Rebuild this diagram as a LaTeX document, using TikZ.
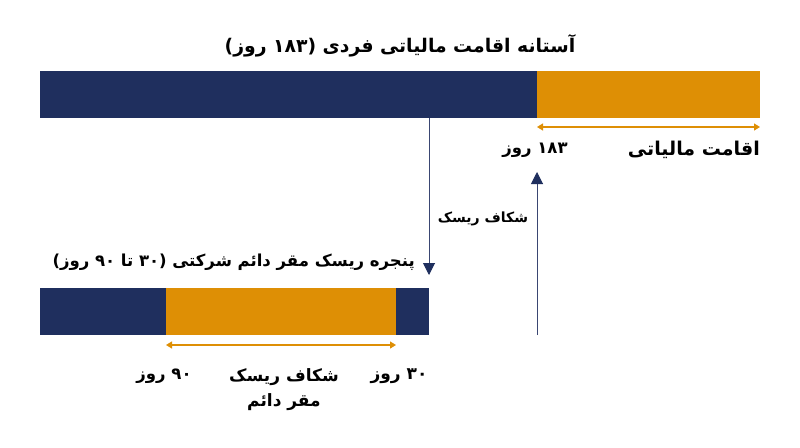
\documentclass[tikz,border=0pt]{standalone}
\usepackage{fontspec}
\newfontfamily\arabicfont[Script=Arabic]{DejaVu Sans}
\TeXXeTstate=1
\usetikzlibrary{arrows.meta}
\definecolor{navy}{HTML}{1F2F5E}
\definecolor{amber}{HTML}{DE8F05}
\definecolor{vline}{HTML}{3A4672}
\begin{document}
\begin{tikzpicture}[x=1pt,y=-1pt,
  bar/.style={draw=none,inner sep=0pt,outer sep=0pt,minimum height=47pt,anchor=north west},
  lbl/.style={text=black,inner sep=0pt,font=\arabicfont\bfseries},
  amberarr/.style={draw=amber,line width=1.2pt,{Triangle[length=6pt,width=7pt]}-{Triangle[length=6pt,width=7pt]}},
  navyarr/.style={draw=vline,line width=1pt,-{Triangle[length=12pt,width=12pt,color=navy]}}]
\useasboundingbox (0,0) rectangle (800,447);
\fill[white] (0,0) rectangle (800,447);
% top bar
\node[bar,fill=navy,minimum width=497pt] (topnavy) at (40,71) {};
\node[bar,fill=amber,minimum width=223pt] (topamber) at (537,71) {};
% bottom bar
\node[bar,fill=navy,minimum width=126pt] (botl) at (40,288) {};
\node[bar,fill=amber,minimum width=230pt] (botm) at (166,288) {};
\node[bar,fill=navy,minimum width=33pt] (botr) at (396,288) {};
% texts
\node[lbl,font=\arabicfont\bfseries\fontsize{18.8}{22}\selectfont] (title) at (400,46)
  {\beginR آستانه اقامت مالیاتی فردی (\beginL ۱۸۳\endL{} روز)\endR};
\node[lbl,font=\arabicfont\bfseries\fontsize{19}{22}\selectfont,anchor=east] (tax) at (760,150)
  {\beginR اقامت مالیاتی\endR};
\node[lbl,font=\arabicfont\bfseries\fontsize{16.5}{20}\selectfont] (d183) at (535,150)
  {\beginR\beginL ۱۸۳\endL{} روز\endR};
\node[lbl,font=\arabicfont\bfseries\fontsize{14}{17}\selectfont] (gap) at (483,219)
  {\beginR شکاف ریسک\endR};
\node[lbl,font=\arabicfont\bfseries\fontsize{16.5}{20}\selectfont,anchor=east] (title2) at (415,262)
  {\beginR پنجره ریسک مقر دائم شرکتی (\beginL ۳۰\endL{} تا \beginL ۹۰\endL{} روز)\endR};
\node[lbl,font=\arabicfont\bfseries\fontsize{16.5}{20}\selectfont] (d90) at (164,376)
  {\beginR\beginL ۹۰\endL{} روز\endR};
\node[lbl,font=\arabicfont\bfseries\fontsize{17}{20}\selectfont] (d30) at (399,376)
  {\beginR\beginL ۳۰\endL{} روز\endR};
\node[lbl,font=\arabicfont\bfseries\fontsize{17}{20}\selectfont,align=center] (gap2) at (284,390)
  {\beginR شکاف ریسک\endR\\[5pt]\beginR مقر دائم\endR};
% connectors
\coordinate (ta1) at (topamber.south west |- 0,127);
\coordinate (ta2) at (topamber.south east |- 0,127);
\draw[amberarr] (ta1) -- (ta2);
\coordinate (ba1) at (botm.south west |- 0,345);
\coordinate (ba2) at (botm.south east |- 0,345);
\draw[amberarr] (ba1) -- (ba2);
\coordinate (dstart) at (429,118);
\coordinate (dend) at (429,275);
\draw[navyarr] (dstart) -- (dend);
\coordinate (ustart) at (537,335);
\coordinate (uend) at (537,172);
\draw[navyarr] (ustart) -- (uend);
\end{tikzpicture}
\end{document}
